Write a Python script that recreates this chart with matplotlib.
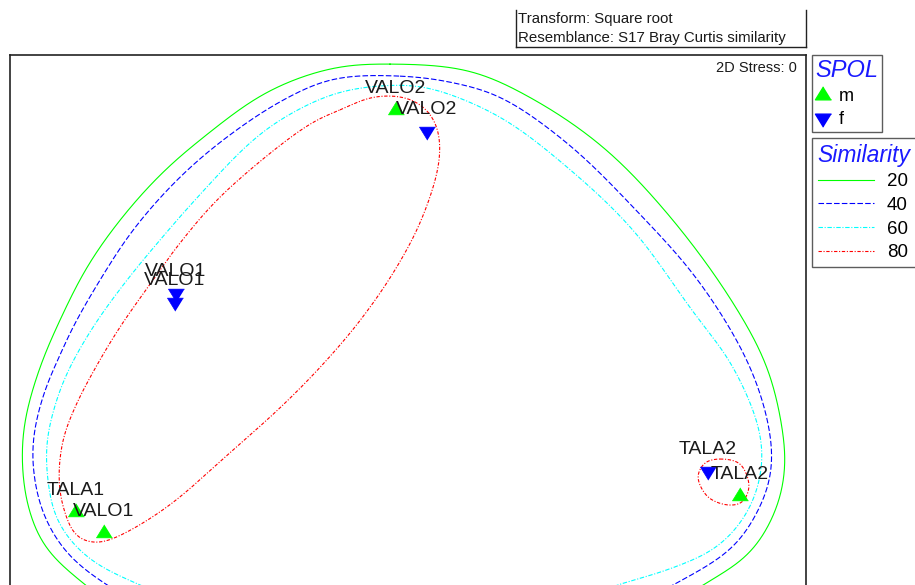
import numpy as np
import matplotlib.pyplot as plt
from matplotlib.lines import Line2D

plt.rcParams['font.family'] = ['Liberation Sans', 'DejaVu Sans']

# nMDS sample positions (plot units, y grows downwards)
labels = ['VALO2', 'VALO2', 'VALO1', 'VALO1', 'TALA1', 'VALO1', 'TALA2', 'TALA2']
spol = ['m', 'f', 'f', 'f', 'm', 'm', 'f', 'm']
xs = [396, 427, 175.5, 175, 76, 103.5, 708, 740]
ys = [110, 131, 293, 302, 511.5, 533, 470.5, 496]

# similarity contours (control points of closed curves)
cont20 = [(390, 64), (470, 71), (533, 99), (603, 147), (667, 213), (730, 298),
          (767, 367), (783, 433), (785, 470), (776, 510), (750, 553), (703, 585),
          (650, 615), (550, 645), (400, 655), (250, 645), (130, 615), (83, 583),
          (45, 547), (28, 507), (22, 460), (25, 420), (40, 367), (60, 320),
          (87, 267), (120, 220), (160, 175), (200, 140), (267, 92), (333, 68)]
cont40 = [(400, 76), (450, 82), (500, 97), (567, 143), (633, 207), (700, 283),
          (750, 367), (770, 433), (771, 473), (760, 507), (733, 547), (673, 585),
          (620, 610), (530, 630), (400, 638), (280, 632), (160, 612), (107, 585),
          (67, 553), (43, 513), (33, 467), (34, 433), (45, 390), (60, 355),
          (73, 327), (100, 280), (133, 230), (177, 180), (223, 140), (283, 100),
          (333, 79)]
cont60 = [(400, 85), (433, 89), (500, 117), (567, 167), (633, 230), (691, 309),
          (733, 367), (760, 433), (761, 473), (747, 513), (717, 547), (667, 570),
          (617, 585), (570, 603), (500, 618), (400, 625), (300, 622), (210, 610),
          (140, 585), (87, 557), (57, 520), (47, 473), (47, 440), (55, 405),
          (67, 373), (93, 327), (127, 280), (160, 240), (195, 200), (253, 140),
          (290, 114), (340, 92)]
cont80a = [(340, 110), (373, 97), (407, 98), (427, 110), (437, 127), (440, 147),
           (437, 173), (420, 223), (395, 270), (362, 318), (325, 362), (283, 405),
           (233, 450), (167, 507), (117, 537), (97, 543), (77, 537), (64, 510),
           (59, 480), (63, 440), (76, 405), (97, 365), (120, 327), (148, 287),
           (180, 243), (220, 197), (287, 140), (317, 120)]
cont80b = [(720, 459), (740, 464), (749, 486), (742, 502), (728, 505), (708, 497),
           (698, 477), (705, 463)]

levels = ['20', '40', '60', '80']
level_colors = ['#00ff00', '#0000ff', '#00ffff', '#ff0000']
level_styles = ['-', (0, (5, 2)), (0, (4, 1.5, 1, 1.5)), (0, (3, 1.5, 1, 1.5))]


def smooth_closed(pts, sigma=8, n=40):
    # centripetal Catmull-Rom through the points, then a light gaussian smooth
    p = np.asarray(pts, float)
    P = np.vstack([p[-1], p, p[0], p[1]])
    out = []
    for i in range(1, len(p) + 1):
        p0, p1, p2, p3 = P[i - 1], P[i], P[i + 1], P[i + 2]
        t0 = 0.0
        t1 = t0 + np.linalg.norm(p1 - p0) ** 0.5
        t2 = t1 + np.linalg.norm(p2 - p1) ** 0.5
        t3 = t2 + np.linalg.norm(p3 - p2) ** 0.5
        t = np.linspace(t1, t2, n, endpoint=False)[:, None]
        a1 = (t1 - t) / (t1 - t0) * p0 + (t - t0) / (t1 - t0) * p1
        a2 = (t2 - t) / (t2 - t1) * p1 + (t - t1) / (t2 - t1) * p2
        a3 = (t3 - t) / (t3 - t2) * p2 + (t - t2) / (t3 - t2) * p3
        b1 = (t2 - t) / (t2 - t0) * a1 + (t - t0) / (t2 - t0) * a2
        b2 = (t3 - t) / (t3 - t1) * a2 + (t - t1) / (t3 - t1) * a3
        out.append((t2 - t) / (t2 - t1) * b1 + (t - t1) / (t2 - t1) * b2)
    out.append(p[:1])
    d = np.vstack(out)
    s = np.concatenate([[0], np.cumsum(np.hypot(*np.diff(d, axis=0).T))])
    u = np.linspace(0, s[-1], int(s[-1]), endpoint=False)
    x = np.interp(u, s, d[:, 0])
    y = np.interp(u, s, d[:, 1])
    if sigma > 0:
        m = int(3 * sigma)
        k = np.arange(-m, m + 1)
        w = np.exp(-k ** 2 / (2 * sigma ** 2))
        w /= w.sum()
        x = np.convolve(np.r_[x[-m:], x, x[:m]], w, 'valid')
        y = np.convolve(np.r_[y[-m:], y, y[:m]], w, 'valid')
    return np.r_[x, x[:1]], np.r_[y, y[:1]]


up = [(0, 1), (-0.923, -0.5), (0.923, -0.5)]
down = [(0, -1), (-0.923, 0.5), (0.923, 0.5)]
sym = {'m': (up, '#00ff00'), 'f': (down, '#0000ff')}

W, H = 915, 585
fig = plt.figure(figsize=(W / 100, H / 100), dpi=100)
ax = fig.add_axes([10 / W, (H - 600) / H, 796 / W, (600 - 54.5) / H])
ax.set_xlim(10, 806)
ax.set_ylim(600, 54.5)
ax.set_xticks([])
ax.set_yticks([])
for s in ax.spines.values():
    s.set_color('#222222')
    s.set_linewidth(1.2)

conts = [[(cont20, 14)], [(cont40, 12)], [(cont60, 12)],
         [(cont80a, 8), (cont80b, 2)]]
for group, c, ls in zip(conts, level_colors, level_styles):
    for pts, sg in group:
        cx, cy = smooth_closed(pts, sigma=sg)
        ax.plot(cx, cy, color=c, ls=ls, lw=0.8)

for x, y, g in zip(xs, ys, spol):
    m, c = sym[g]
    ax.plot(x, y, marker=m, ms=12.5, color=c, mec=c, mew=0.5, ls='none')

for x, y, lab in zip(xs, ys, labels):
    ax.annotate(lab, (x, y), xytext=(0, 12), textcoords='offset points',
                ha='center', va='baseline', fontsize=14, color='#1a1a1a')

ax.text(797, 68, '2D Stress: 0', ha='right', va='center', fontsize=10.5,
        color='#1a1a1a')

# info box above the plot
ax2 = fig.add_axes([516 / W, 1 - 47 / H, 290 / W, 37 / H])
ax2.set_xticks([])
ax2.set_yticks([])
ax2.spines['top'].set_visible(False)
for k in ['left', 'right', 'bottom']:
    ax2.spines[k].set_color('#222222')
    ax2.spines[k].set_linewidth(1.0)
ax2.text(0.008, 0.77, 'Transform: Square root', transform=ax2.transAxes,
         ha='left', va='center', fontsize=10.8, color='#1a1a1a')
ax2.text(0.008, 0.23, 'Resemblance: S17 Bray Curtis similarity',
         transform=ax2.transAxes, ha='left', va='center', fontsize=10.8,
         color='#1a1a1a')

# legends
h1 = [Line2D([], [], marker=sym[g][0], color=sym[g][1], ls='none', ms=12.5)
      for g in ['m', 'f']]
leg1 = fig.legend(h1, ['m', 'f'], loc='upper left',
                  bbox_to_anchor=(812 / W, 1 - 55 / H), fontsize=13,
                  title='SPOL', alignment='left', frameon=True, fancybox=False,
                  borderpad=0.2, handlelength=0.8, handletextpad=0.5,
                  labelspacing=0.35, borderaxespad=0, edgecolor='#333333')
leg1.get_title().set_fontsize(17)
leg1.get_title().set_fontstyle('italic')
leg1.get_title().set_color('#1a1aff')
leg1.get_frame().set_linewidth(1.0)

h2 = [Line2D([], [], color=c, ls=ls, lw=0.8)
      for c, ls in zip(level_colors, level_styles)]
leg2 = fig.legend(h2, levels, loc='upper left',
                  bbox_to_anchor=(812 / W, 1 - 138 / H), fontsize=13.5,
                  title='Similarity', alignment='left', frameon=True,
                  fancybox=False, borderpad=0.3, handlelength=3.0,
                  handletextpad=0.7, labelspacing=0.35, borderaxespad=0,
                  edgecolor='#333333')
leg2.get_title().set_fontsize(16.5)
leg2.get_title().set_fontstyle('italic')
leg2.get_title().set_color('#1a1aff')
leg2.get_frame().set_linewidth(1.0)

fig.savefig('out.png', dpi=100)
